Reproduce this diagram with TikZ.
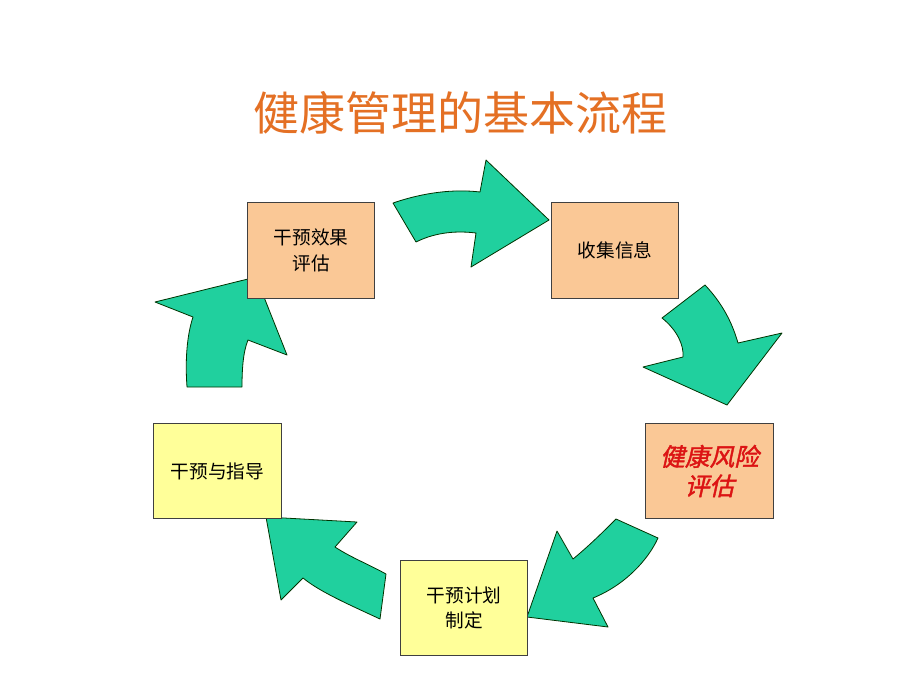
\documentclass[tikz,border=0pt]{standalone}
\usepackage{fontspec}
\newfontfamily\cjk{Noto Sans CJK SC}
\newfontfamily\cjkbi[FakeSlant=0.22,FakeBold=1.6]{Noto Sans CJK SC}
\definecolor{arrowgreen}{RGB}{32,208,158}
\definecolor{peach}{RGB}{250,200,150}
\definecolor{paleyellow}{RGB}{255,255,153}
\definecolor{titleorange}{RGB}{228,112,36}
\definecolor{riskred}{RGB}{220,20,20}
\begin{document}
\begin{tikzpicture}[x=0.75pt,y=-0.75pt,
  flowarrow/.style={fill=arrowgreen,draw=black!80!green,line width=0.6pt,line join=round},
  stagebox/.style={draw=black!75,line width=0.6pt,minimum width=95.5pt,minimum height=71.5pt,inner sep=0pt,align=center,font=\cjk\fontsize{14}{19}\selectfont}]
\useasboundingbox (0,0) rectangle (920,690);
\fill[white] (0,0) rectangle (920,690);
\node (title) at (460,113) {\cjk\color{titleorange}\fontsize{34.5}{40}\selectfont 健康管理的基本流程};
% arrows
\draw[flowarrow] (393,203) .. controls (425,192) and (455,189) .. (480,192) -- (486,160) -- (549,220) -- (471,267) -- (476,233) .. controls (452,230) and (432,234) .. (416,242) -- cycle;
\draw[flowarrow] (705,285) .. controls (722,303) and (732,322) .. (738,343) -- (782,333) -- (727,405) -- (643,367) -- (683,357) .. controls (684,345) and (677,330) .. (662,318) -- cycle;
\draw[flowarrow] (616,519) -- (658,538) .. controls (648,560) and (625,585) .. (593,598) -- (608,627) -- (527,617) -- (557,531) -- (573,559) .. controls (590,545) and (605,530) .. (616,519) -- cycle;
\draw[flowarrow] (266,517) -- (357,522) -- (335,547) .. controls (350,557) and (370,565) .. (386,574) -- (380,619) .. controls (350,605) and (320,592) .. (303,578) -- (281,600) -- cycle;
\draw[flowarrow] (256,277) -- (287,355) -- (248,340) .. controls (243,352) and (242,370) .. (242,387) -- (187,387) .. controls (185,360) and (187,335) .. (193,317) -- (155,302) -- cycle;
% boxes
\node[stagebox,fill=peach] (eval) at (311,250.5) {干预效果\\评估};
\node[stagebox,fill=peach] (collect) at (615,250.5) {收集信息};
\node[stagebox,fill=peach,font=\cjkbi\fontsize{18.5}{22}\selectfont,text=riskred] (risk) at (709.5,471) {健康风险\\评估};
\node[stagebox,fill=paleyellow] (plan) at (464,608) {干预计划\\制定};
\node[stagebox,fill=paleyellow] (guide) at (217.5,471) {干预与指导};
\end{tikzpicture}
\end{document}
